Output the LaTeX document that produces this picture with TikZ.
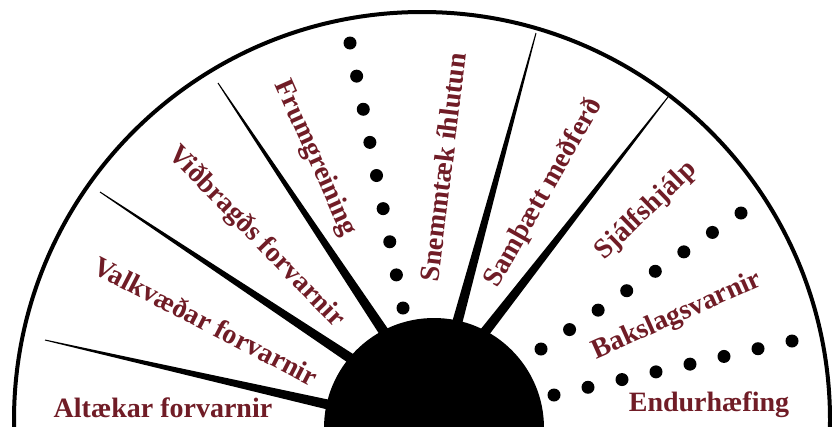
\documentclass[tikz,border=0pt]{standalone}
\usepackage{fontspec}
\setmainfont{Liberation Serif}
\usetikzlibrary{calc}
\definecolor{labelred}{RGB}{112,28,38}
\begin{document}
\begin{tikzpicture}[x=1pt,y=-1pt,
  lbl/.style={text=labelred, font=\bfseries\fontsize{28}{28}\selectfont, inner sep=0pt},
  dotmark/.style={fill=black, circle, minimum size=13pt, inner sep=0pt}]
\useasboundingbox (0,0) rectangle (832,426);
\clip (0,0) rectangle (832,426);
\fill[white] (0,0) rectangle (832,426);
\coordinate (C) at (434,428);
\coordinate (A) at (422,420);
\draw[line width=4pt] (A) circle[radius=408];
\fill (C) circle[radius=110];
% spokes (tapering wedges)
\foreach \n/\tx/\ty/\ix/\iy in {1/45/340/330/405, 2/100/192/347/356, 3/218/83/380/326, 4/536/33/459/316, 5/668/97/488/328} {
  \coordinate (t\n) at (\tx,\ty);
  \coordinate (i\n) at (\ix,\iy);
  \coordinate (b\n) at ($(t\n)!1.12!(i\n)$);
  \fill ($(t\n)!0.5pt!90:(b\n)$) -- ($(b\n)!5.5pt!-90:(t\n)$) -- ($(b\n)!5.5pt!90:(t\n)$) -- ($(t\n)!0.5pt!-90:(b\n)$) -- cycle;
}
% dotted lines
\coordinate (da0) at (350,43);  \coordinate (da1) at (403,308);
\coordinate (db0) at (541,349); \coordinate (db1) at (741,213);
\coordinate (dc0) at (554,395); \coordinate (dc1) at (792,341);
\foreach \k in {0,...,8} \node[dotmark] (pa\k) at ($(da0)!\k/8!(da1)$) {};
\foreach \k in {0,...,7} \node[dotmark] (pb\k) at ($(db0)!\k/7!(db1)$) {};
\foreach \k in {0,...,7} \node[dotmark] (pc\k) at ($(dc0)!\k/7!(dc1)$) {};
% labels
\node[lbl] (l1) at (163,408) {Altækar forvarnir};
\node[lbl, rotate=-27.4] (l2) at (206,321) {Valkvæðar forvarnir};
\node[lbl, rotate=-46] (l3) at (256,237) {Viðbragðs forvarnir};
\node[lbl, rotate=-66] (l4) at (315,158) {Frumgreining};
\node[lbl, rotate=83] (l5) at (443,167) {Snemmtæk íhlutun};
\node[lbl, rotate=60.5] (l6) at (544,193) {Samþætt meðferð};
\node[lbl, rotate=44] (l7) at (646,211) {Sjálfshjálp};
\node[lbl, rotate=24] (l8) at (677,316) {Bakslagsvarnir};
\node[lbl] (l9) at (709,405) {Endurhæfing};
\end{tikzpicture}
\end{document}
